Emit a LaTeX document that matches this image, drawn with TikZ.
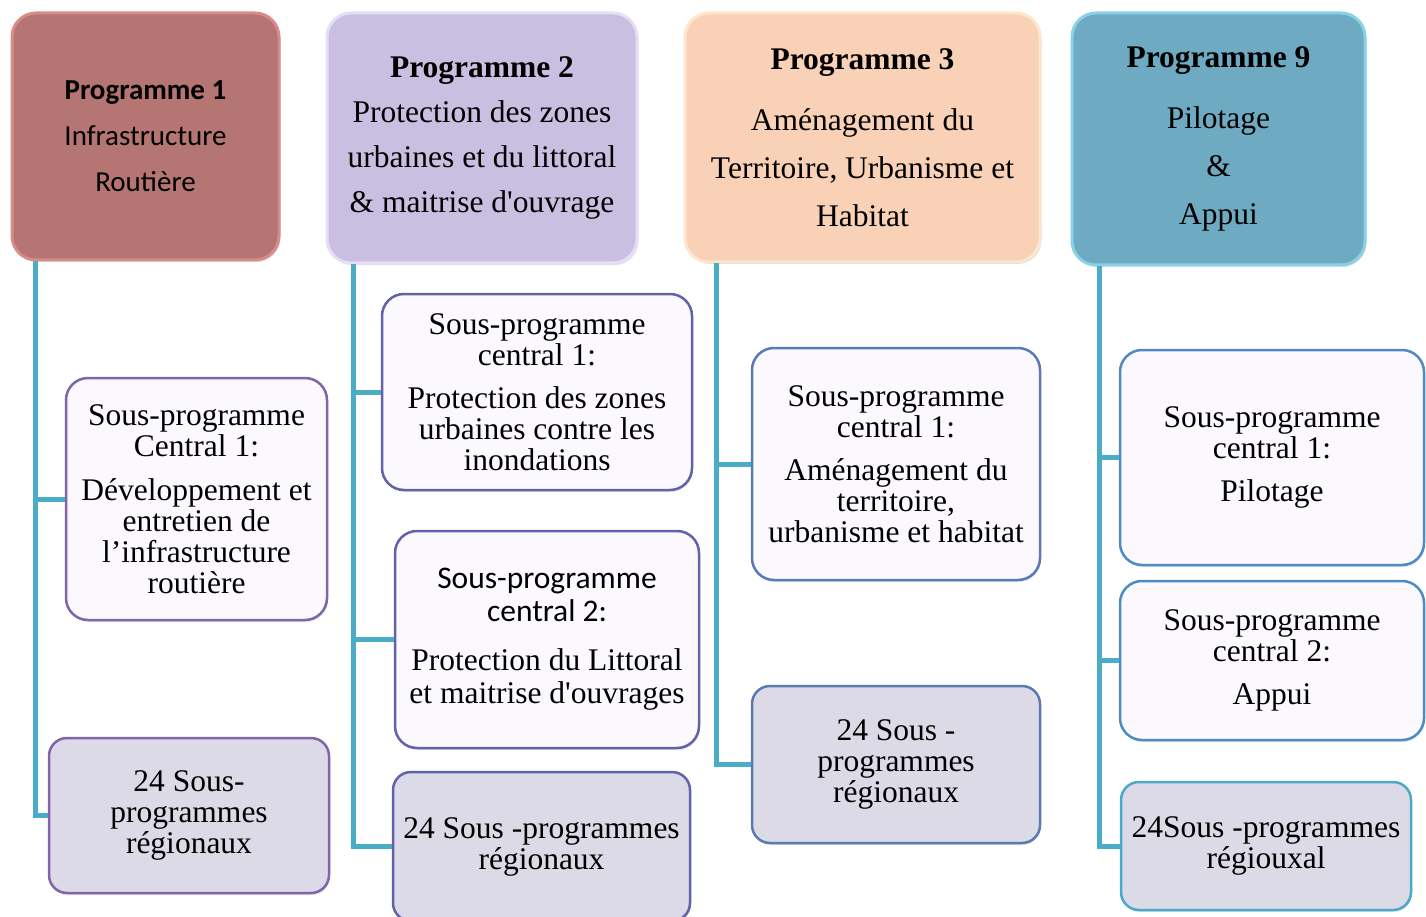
\documentclass[tikz,border=0pt]{standalone}
\usepackage{fontspec}
\setmainfont{Liberation Serif}
\newfontfamily\calibri{Carlito}
\usetikzlibrary{shapes,positioning,shadows}

\definecolor{linkteal}{HTML}{4BACC6}
\definecolor{p1fill}{HTML}{B57572}
\definecolor{p1edge}{HTML}{D98B8B}
\definecolor{p2fill}{HTML}{C9BFE0}
\definecolor{p2edge}{HTML}{E6DEF8}
\definecolor{p3fill}{HTML}{F9D1B6}
\definecolor{p3edge}{HTML}{FDE6CE}
\definecolor{p9fill}{HTML}{6EAAC1}
\definecolor{p9edge}{HTML}{88D1E7}
\definecolor{subfill}{HTML}{FBF9FE}
\definecolor{regfill}{HTML}{DCDAE6}
\definecolor{purpleedge}{HTML}{7F65A9}
\definecolor{violetedge}{HTML}{6262AA}
\definecolor{blueedge}{HTML}{5A7AB4}
\definecolor{skyedge}{HTML}{4E8BC0}
\definecolor{tealedge}{HTML}{4AA8C8}

\tikzset{
  prog/.style={rectangle, rounded corners=24pt, line width=3pt, inner sep=0pt, align=center,
    drop shadow={opacity=0.25, shadow xshift=1.5pt, shadow yshift=-2pt},
    font=\fontsize{31.5}{45}\selectfont},
  subprog/.style={rectangle, rounded corners=22pt, line width=2.5pt, inner sep=0pt, align=center,
    fill=subfill, drop shadow={opacity=0.2, shadow xshift=1pt, shadow yshift=-2pt},
    font=\fontsize{31.5}{31}\selectfont},
  regprog/.style={subprog, fill=regfill, rounded corners=18pt},
  link/.style={draw=linkteal, line width=5pt}
}

\begin{document}
\begin{tikzpicture}[x=1pt,y=-1pt]
	\useasboundingbox (0,0) rectangle (1426,917);
	
	% programmes
	\node[prog, fill=p1fill, draw=p1edge, minimum width=267pt, minimum height=247pt,
		font=\calibri\fontsize{29}{46}\selectfont] (p1) at (145.5,136.5)
		{\textbf{Programme 1}\\Infrastructure\\Routière};
	\node[prog, fill=p2fill, draw=p2edge, minimum width=310pt, minimum height=250pt] (p2) at (482,138)
		{\textbf{Programme 2}\\Protection des zones\\urbaines et du littoral\\\& maitrise d\textquotesingle ouvrage};
	\node[prog, fill=p3fill, draw=p3edge, minimum width=355pt, minimum height=249pt,
		font=\fontsize{31.5}{48}\selectfont] (p3) at (862.5,137.5)
		{\textbf{Programme 3}\\[13pt]Aménagement du\\Territoire, Urbanisme et\\Habitat};
	\node[prog, fill=p9fill, draw=p9edge, minimum width=293pt, minimum height=252pt,
		font=\fontsize{31.5}{48}\selectfont] (p9) at (1218.5,139)
		{\textbf{Programme 9}\\[13pt]Pilotage\\\&\\Appui};
	
	% colonne 1
	\node[subprog, draw=purpleedge, minimum width=261pt, minimum height=242pt] (c1) at (196.5,499)
		{Sous-programme\\Central 1:\\[13pt]Développement et\\entretien de\\l’infrastructure\\routière};
	\node[regprog, draw=purpleedge, minimum width=280pt, minimum height=155pt] (r1) at (189,815.5)
		{24 Sous-\\programmes\\régionaux};
	
	% colonne 2
	\node[subprog, draw=violetedge, minimum width=310pt, minimum height=196pt] (c2a) at (537,392)
		{Sous-programme\\central 1:\\[12pt]Protection des zones\\urbaines contre les\\inondations};
	\node[subprog, draw=violetedge, minimum width=304pt, minimum height=217pt,
		font=\fontsize{31.5}{33}\selectfont] (c2b) at (547,639.5)
		{{\calibri Sous-programme}\\{\calibri central 2:}\\[16pt]Protection du Littoral\\et maitrise d\textquotesingle ouvrages};
	\node[regprog, draw=violetedge, minimum width=297pt, minimum height=149pt] (r2) at (541.5,846.5)
		{24 Sous -programmes\\régionaux};
	
	% colonne 3
	\node[subprog, draw=blueedge, minimum width=288pt, minimum height=232pt] (c3) at (896,464)
		{Sous-programme\\central 1:\\[12pt]Aménagement du\\territoire,\\urbanisme et habitat};
	\node[regprog, draw=blueedge, minimum width=288pt, minimum height=157pt] (r3) at (896,764.5)
		{24 Sous -\\programmes\\régionaux};
	
	% colonne 9
	\node[subprog, draw=skyedge, minimum width=304pt, minimum height=215pt] (c9a) at (1272,457.5)
		{Sous-programme\\central 1:\\[12pt]Pilotage};
	\node[subprog, draw=skyedge, minimum width=304pt, minimum height=159pt] (c9b) at (1272,660.5)
		{Sous-programme\\central 2:\\[12pt]Appui};
	\node[regprog, draw=tealedge, minimum width=290pt, minimum height=128pt] (r9) at (1266,846)
		{24Sous -programmes\\régiouxal};
	
	% liaisons
	\coordinate (k1) at ([xshift=25pt]p1.south west);
	\coordinate (k2) at ([xshift=28pt]p2.south west);
	\coordinate (k3) at ([xshift=33pt]p3.south west);
	\coordinate (k9) at ([xshift=29pt]p9.south west);
	
	\draw[link] (k1) |- (r1.west);
	\draw[link] (k1 |- c1.west) -- (c1.west);
	
	\draw[link] (k2) |- (r2.west);
	\draw[link] (k2 |- c2a.west) -- (c2a.west);
	\draw[link] (k2 |- c2b.west) -- (c2b.west);
	
	\draw[link] (k3) |- (r3.west);
	\draw[link] (k3 |- c3.west) -- (c3.west);
	
	\draw[link] (k9) |- (r9.west);
	\draw[link] (k9 |- c9a.west) -- (c9a.west);
	\draw[link] (k9 |- c9b.west) -- (c9b.west);
\end{tikzpicture}
\end{document}
